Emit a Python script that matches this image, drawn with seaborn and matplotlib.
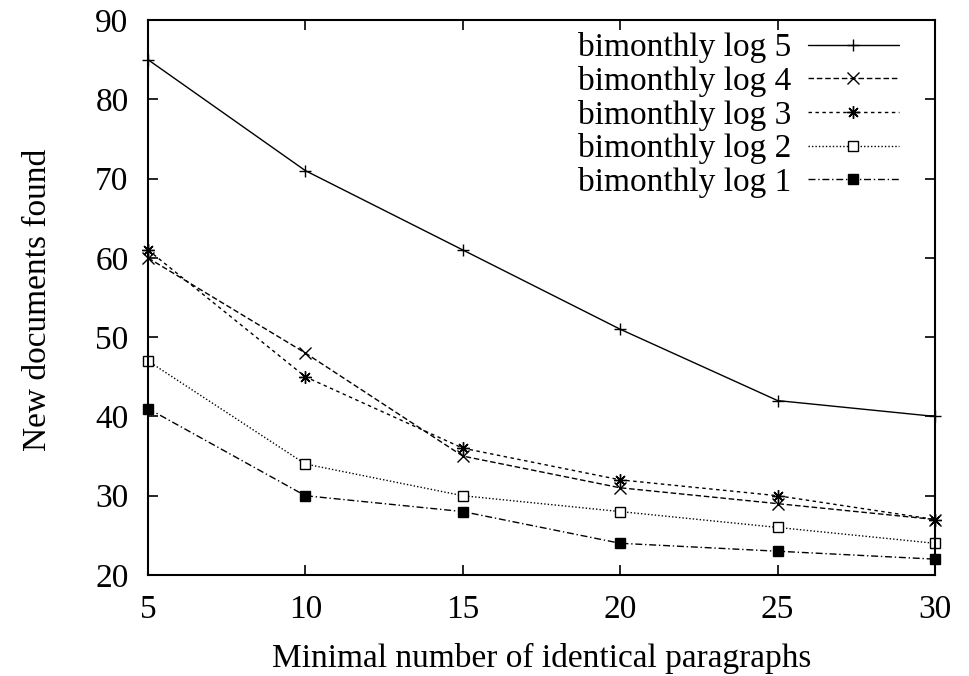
import matplotlib
matplotlib.use("Agg")
import matplotlib.pyplot as plt
import seaborn as sns
import pandas as pd

x_vals = [5, 10, 15, 20, 25, 30]
log5 = [85, 71, 61, 51, 42, 40]
log4 = [60, 48, 35, 31, 29, 27]
log3 = [61, 45, 36, 32, 30, 27]
log2 = [47, 34, 30, 28, 26, 24]
log1 = [41, 30, 28, 24, 23, 22]
labels = ["bimonthly log 5", "bimonthly log 4", "bimonthly log 3",
          "bimonthly log 2", "bimonthly log 1"]
series = [log5, log4, log3, log2, log1]

sns.set_style("ticks")
plt.rcParams['font.family'] = ['Liberation Serif', 'DejaVu Serif']
plt.rcParams['text.color'] = 'black'
plt.rcParams['axes.labelcolor'] = 'black'
plt.rcParams['xtick.color'] = 'black'
plt.rcParams['ytick.color'] = 'black'
plt.rcParams['axes.edgecolor'] = 'black'

fig = plt.figure(figsize=(9.69, 6.76), dpi=100)
ax = fig.add_axes([0.1527, 0.1494, 0.8122, 0.821])

styles = [
    dict(linestyle='-', marker='+', markersize=9, mfc='none'),
    dict(linestyle=(0, (4, 2)), marker='x', markersize=8, mfc='none'),
    dict(linestyle=(0, (2.5, 2.5)), marker=(8, 2, 0), markersize=9, mfc='none'),
    dict(linestyle=(0, (1, 1.5)), marker='s', markersize=7.5, mfc='white'),
    dict(linestyle=(0, (5, 2, 1, 2)), marker='s', markersize=7.5, mfc='black'),
]

for vals, lab, st in zip(series, labels, styles):
    df = pd.DataFrame({"x": x_vals, "y": vals})
    sns.lineplot(data=df, x="x", y="y", ax=ax, color='black', linewidth=1.0,
                 label=lab, mec='black', mew=1.0, clip_on=False, **st)

ax.set_xlim(5, 30)
ax.set_ylim(20, 90)
ax.set_xticks(x_vals)
ax.set_yticks([20, 30, 40, 50, 60, 70, 80, 90])
ax.tick_params(direction='in', length=7, width=1.2, top=True, right=True,
               labelsize=24, pad=14)
for sp in ax.spines.values():
    sp.set_linewidth(1.5)
ax.set_xlabel("Minimal number of identical paragraphs", fontsize=24)
ax.set_ylabel("New documents found", fontsize=24)
ax.xaxis.set_label_coords(0.5, -0.1225)
ax.yaxis.set_label_coords(-0.121, 0.495)

leg = ax.legend(loc='upper right', bbox_to_anchor=(0.954, 0.978),
                frameon=False, markerfirst=False,
                fontsize=24, handlelength=2.73, labelspacing=0.08,
                borderaxespad=0.0, borderpad=0.0, handletextpad=0.5)

fig.savefig("out.png", dpi=100)
